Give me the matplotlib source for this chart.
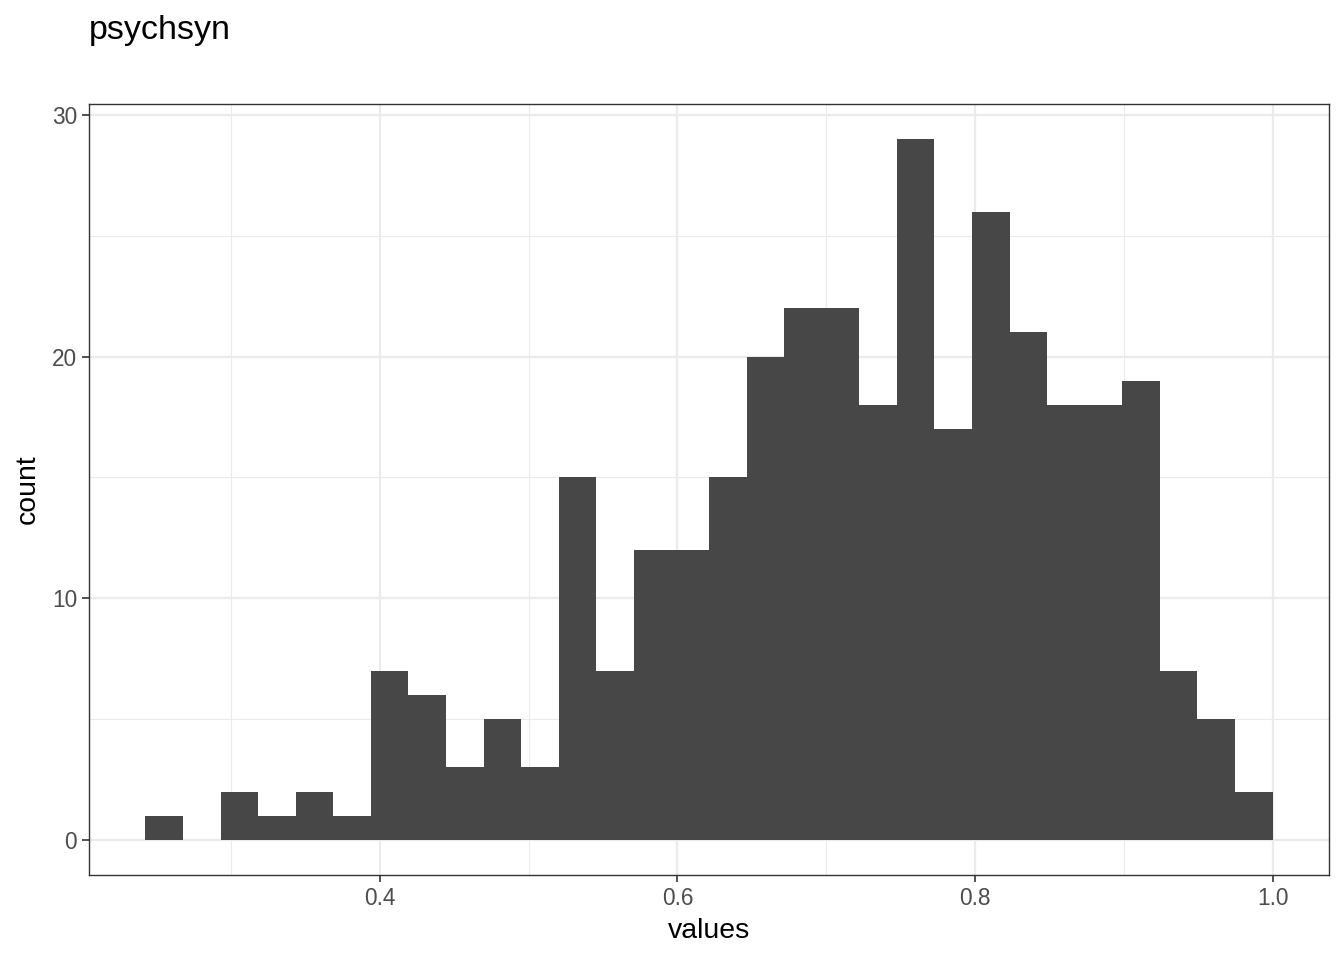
import numpy as np
import matplotlib
matplotlib.use("Agg")
import matplotlib.pyplot as plt
from matplotlib.ticker import MultipleLocator

plt.rcParams["font.family"] = ["Liberation Sans", "DejaVu Sans"]

# histogram of psychsyn values, 30 bins
bin_lo = 0.2424
bin_hi = 1.0
counts = [1, 0, 2, 1, 2, 1, 7, 6, 3, 5,
          3, 15, 7, 12, 12, 15, 20, 22, 22, 18,
          29, 17, 26, 21, 18, 18, 19, 7, 5, 2]
x_ticks = [0.4, 0.6, 0.8, 1.0]
y_ticks = [0, 10, 20, 30]

edges = np.linspace(bin_lo, bin_hi, len(counts) + 1)

fig = plt.figure(figsize=(13.44, 9.6), dpi=100)
ax = fig.add_axes([89 / 1344, 85 / 960, 1240 / 1344, 771 / 960])

ax.bar(edges[:-1], counts, width=np.diff(edges), align="edge",
       color="#474747", linewidth=0, zorder=3)

# ggplot-style 5% expansion
xr = bin_hi - bin_lo
ax.set_xlim(bin_lo - 0.05 * xr, bin_hi + 0.05 * xr)
ymax = max(counts)
ax.set_ylim(-0.05 * ymax, ymax * 1.05)

ax.set_xticks(x_ticks)
ax.set_xticklabels([f"{t:.1f}" for t in x_ticks])
ax.set_yticks(y_ticks)
ax.xaxis.set_minor_locator(MultipleLocator(0.1))
ax.yaxis.set_minor_locator(MultipleLocator(5))

ax.grid(which="major", color="#EBEBEB", linewidth=1.6, zorder=0)
ax.grid(which="minor", color="#EBEBEB", linewidth=0.8, zorder=0)
ax.set_axisbelow(True)

for s in ax.spines.values():
    s.set_color("#333333")
    s.set_linewidth(1.0)

ax.tick_params(which="major", length=5, width=1.2, color="#333333",
               labelsize=16.3, labelcolor="#4D4D4D", pad=3.5)
ax.tick_params(which="minor", length=0)

ax.set_xlabel("values", fontsize=20.4, labelpad=6)
ax.set_ylabel("count", fontsize=20.4, labelpad=8)
fig.text(89 / 1344, 1 - 30 / 960, "psychsyn", fontsize=24.5,
         ha="left", va="center")

fig.savefig("out.png", dpi=100, facecolor="white")
